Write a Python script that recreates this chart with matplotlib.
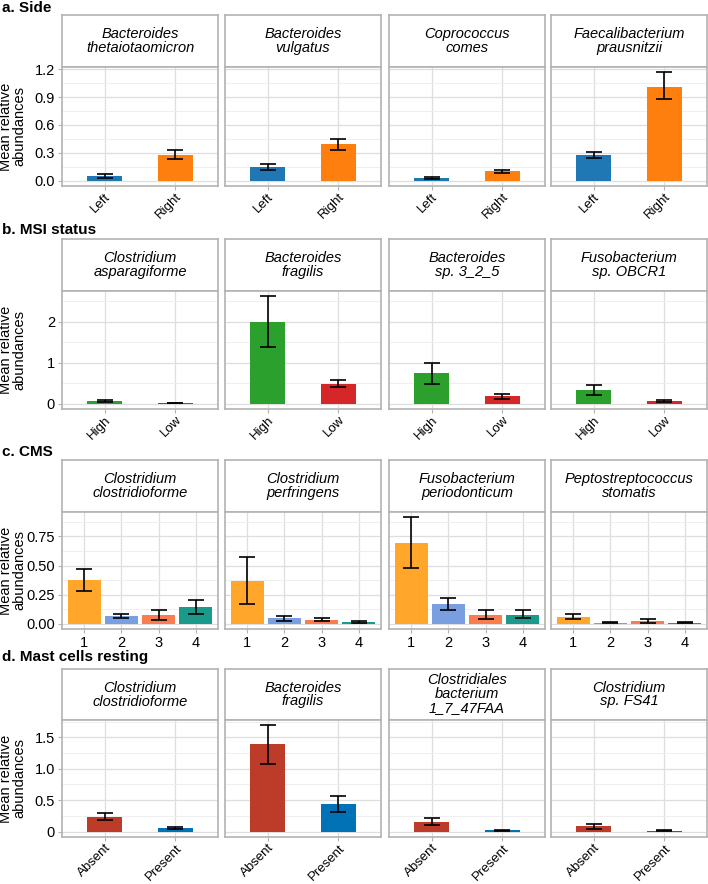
import numpy as np
import matplotlib
matplotlib.use("Agg")
import matplotlib.pyplot as plt
from matplotlib.ticker import MultipleLocator

plt.rcParams['font.family'] = ['Liberation Sans', 'DejaVu Sans']

# a. Side
side_species = ["Bacteroides\nthetaiotaomicron", "Bacteroides\nvulgatus",
                "Coprococcus\ncomes", "Faecalibacterium\nprausnitzii"]
side_groups = ["Left", "Right"]
side_mean = [[0.05, 0.28], [0.15, 0.39], [0.03, 0.10], [0.28, 1.01]]
side_lo = [[0.03, 0.23], [0.11, 0.33], [0.02, 0.08], [0.24, 0.875]]
side_hi = [[0.07, 0.33], [0.18, 0.45], [0.04, 0.11], [0.31, 1.165]]
side_colors = ["#1F77B4", "#FF7F0E"]

# b. MSI status
msi_species = ["Clostridium\nasparagiforme", "Bacteroides\nfragilis",
               "Bacteroides\nsp. 3_2_5", "Fusobacterium\nsp. OBCR1"]
msi_groups = ["High", "Low"]
msi_mean = [[0.07, 0.01], [2.0, 0.49], [0.75, 0.18], [0.34, 0.06]]
msi_lo = [[0.04, 0.005], [1.38, 0.40], [0.49, 0.12], [0.21, 0.04]]
msi_hi = [[0.10, 0.015], [2.62, 0.58], [1.0, 0.23], [0.46, 0.08]]
msi_colors = ["#2CA02C", "#D62728"]

# c. CMS
cms_species = ["Clostridium\nclostridioforme", "Clostridium\nperfringens",
               "Fusobacterium\nperiodonticum", "Peptostreptococcus\nstomatis"]
cms_groups = ["1", "2", "3", "4"]
cms_mean = [[0.374, 0.067, 0.075, 0.14], [0.37, 0.045, 0.035, 0.015],
            [0.694, 0.17, 0.077, 0.078], [0.06, 0.01, 0.025, 0.008]]
cms_lo = [[0.278, 0.05, 0.03, 0.08], [0.17, 0.02, 0.02, 0.01],
          [0.48, 0.12, 0.04, 0.045], [0.036, 0.005, 0.01, 0.003]]
cms_hi = [[0.473, 0.085, 0.12, 0.20], [0.57, 0.065, 0.05, 0.02],
          [0.915, 0.218, 0.12, 0.115], [0.085, 0.015, 0.04, 0.012]]
cms_colors = ["#FFA62B", "#7A9FE0", "#FA7D50", "#1B998B"]

# d. Mast cells resting
mast_species = ["Clostridium\nclostridioforme", "Bacteroides\nfragilis",
                "Clostridiales\nbacterium\n1_7_47FAA", "Clostridium\nsp. FS41"]
mast_groups = ["Absent", "Present"]
mast_mean = [[0.236, 0.06], [1.39, 0.44], [0.16, 0.02], [0.085, 0.015]]
mast_lo = [[0.18, 0.045], [1.08, 0.32], [0.11, 0.01], [0.047, 0.01]]
mast_hi = [[0.29, 0.075], [1.69, 0.56], [0.215, 0.03], [0.126, 0.02]]
mast_colors = ["#BC3C29", "#0072B5"]

W, H = 708, 884
fig = plt.figure(figsize=(W / 100, H / 100), dpi=100)

col_left = [62, 225, 389, 551]
col_w = 156
border = "#B3B3B3"

rows = [
    dict(title="a. Side", ty=8, strip=15, top=67, bot=186, species=side_species,
         groups=side_groups, mean=side_mean, lo=side_lo, hi=side_hi, colors=side_colors,
         ticks=[0, 0.3, 0.6, 0.9, 1.2], labels=["0.0", "0.3", "0.6", "0.9", "1.2"],
         minor=0.15, width=0.5, rot=45),
    dict(title="b. MSI status", ty=230, strip=239, top=291, bot=409, species=msi_species,
         groups=msi_groups, mean=msi_mean, lo=msi_lo, hi=msi_hi, colors=msi_colors,
         ticks=[0, 1, 2], labels=["0", "1", "2"], minor=0.5, width=0.5, rot=45),
    dict(title="c. CMS", ty=452, strip=460, top=512, bot=629, species=cms_species,
         groups=cms_groups, mean=cms_mean, lo=cms_lo, hi=cms_hi, colors=cms_colors,
         ticks=[0, 0.25, 0.5, 0.75], labels=["0.00", "0.25", "0.50", "0.75"],
         minor=0.125, width=0.9, rot=0),
    dict(title="d. Mast cells resting", ty=657, strip=669, top=720, bot=837,
         species=mast_species, groups=mast_groups, mean=mast_mean, lo=mast_lo,
         hi=mast_hi, colors=mast_colors,
         ticks=[0, 0.5, 1.0, 1.5], labels=["0", "0.5", "1.0", "1.5"],
         minor=0.25, width=0.5, rot=45),
]

for r in rows:
    fig.text(2 / W, 1 - r["ty"] / H, r["title"], fontsize=11, fontweight="bold",
             va="center", ha="left")
    all_lo = min(0, np.min(r["lo"]))
    all_hi = np.max(r["hi"])
    pad = 0.05 * (all_hi - all_lo)
    for i, sp in enumerate(r["species"]):
        x0 = col_left[i] / W
        w = col_w / W
        # strip
        sax = fig.add_axes([x0, 1 - r["top"] / H, w, (r["top"] - r["strip"]) / H])
        sax.set_xticks([])
        sax.set_yticks([])
        for s in sax.spines.values():
            s.set_color(border)
            s.set_linewidth(1.2)
        sax.text(0.5, 0.5, sp, ha="center", va="center", style="italic",
                 fontsize=10.5, linespacing=1.0, transform=sax.transAxes)
        # plot
        ax = fig.add_axes([x0, 1 - r["bot"] / H, w, (r["bot"] - r["top"]) / H])
        n = len(r["groups"])
        xs = np.arange(1, n + 1)
        means = np.array(r["mean"][i])
        lo = np.array(r["lo"][i])
        hi = np.array(r["hi"][i])
        ax.bar(xs, means, width=r["width"], color=r["colors"], zorder=2)
        ax.errorbar(xs, means, yerr=[means - lo, hi - means], fmt="none",
                    ecolor="black", elinewidth=1.2, capsize=6, capthick=1.2, zorder=3)
        ax.set_xlim(0.4, n + 0.6)
        ax.set_ylim(all_lo - pad, all_hi + pad)
        ax.set_yticks(r["ticks"])
        ax.yaxis.set_minor_locator(MultipleLocator(r["minor"]))
        ax.set_xticks(xs)
        ax.grid(which="major", color="#DEDEDE", linewidth=0.9, zorder=0)
        ax.grid(which="minor", axis="y", color="#EDEDED", linewidth=0.6, zorder=0)
        ax.set_axisbelow(True)
        ax.tick_params(which="minor", length=0)
        ax.tick_params(which="major", length=3, color="#B3B3B3", labelsize=10.5,
                       labelcolor="black", pad=2)
        if r["rot"]:
            ax.tick_params(axis="x", pad=0.5, labelsize=9.5)
            ax.set_xticklabels(r["groups"], rotation=45, ha="right", va="top",
                               rotation_mode="anchor")
        else:
            ax.set_xticklabels(r["groups"])
        for s in ax.spines.values():
            s.set_color(border)
            s.set_linewidth(1.2)
        if i == 0:
            ax.set_yticklabels(r["labels"])
            ax.set_ylabel("Mean relative\nabundances", fontsize=10.5, linespacing=0.9)
            ax.yaxis.set_label_coords(-0.23, 0.5)
        else:
            ax.tick_params(axis="y", labelleft=False, length=0)

fig.savefig("out.png", dpi=100)
